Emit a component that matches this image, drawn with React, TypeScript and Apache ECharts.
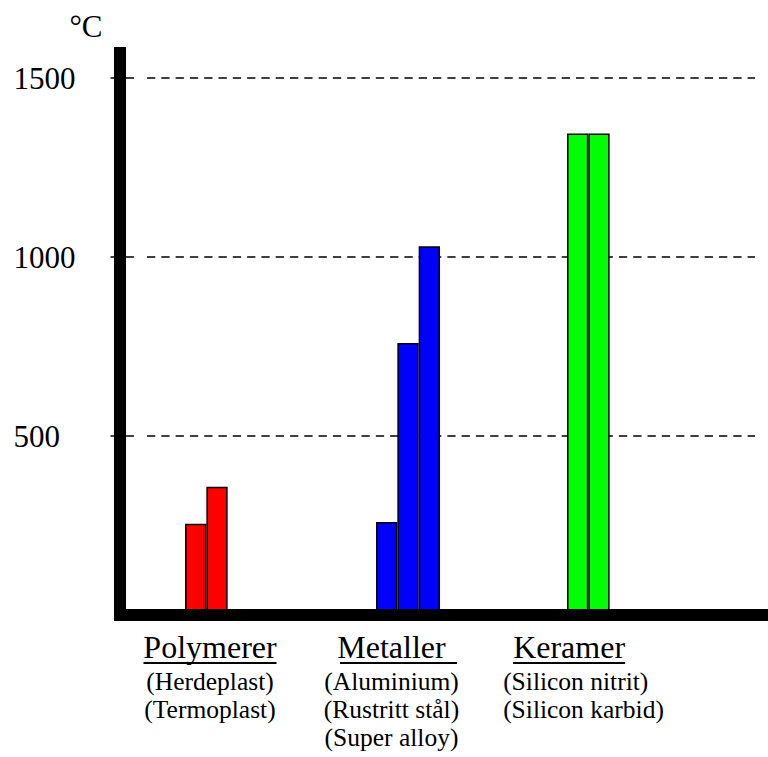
import React, { useEffect, useRef } from "react";
import * as echarts from "echarts";

// ---- data ----
const groups = ["Polymerer", "Metaller", "Keramer"];
const materials = [
  ["(Herdeplast)", "(Termoplast)"],
  ["(Aluminium)", "(Rustritt stål)", "(Super alloy)"],
  ["(Silicon nitrit)", "(Silicon karbid)"],
];
const firstValues = [255, 260, 1345];
const secondValues = [358, 760, 1345];
const thirdValues: (number | string)[] = ["-", 1030, "-"];
const yTicks = [500, 1000, 1500];
const unit = "°C";

const groupColors = ["#ff0000", "#0000ff", "#00ff00"];
const FONT = "Liberation Serif";
const Y_MAX = 1587;

export default function App() {
  const ref = useRef<HTMLDivElement>(null);
  useEffect(() => {
    if (!ref.current) return;
    const chart = echarts.init(ref.current, undefined, { renderer: "svg" });

    const labelPadRight = [14, 33, 31];
    const labelFor = (i: number) => {
      if (i === 0)
        return `{h|${groups[0]}}\n{u0| }\n` + materials[0].map((m) => `{s|${m}}`).join("\n");
      if (i === 1)
        return `{h|${groups[1]}}\n{sp14| }{u1| }\n` + materials[1].map((m) => `{s|${m}}`).join("\n");
      return `{spL| }{hL|${groups[2]}}\n{spL| }{u2L| }\n` + materials[2].map((m) => `{sL|${m}}`).join("\n");
    };

    const barSeries = [firstValues, secondValues, thirdValues].map((vals) => ({
      type: "bar",
      xAxisIndex: 1,
      yAxisIndex: 1,
      data: vals,
      barWidth: 21.3,
      barGap: "0%",
      itemStyle: {
        color: (p: any) => groupColors[p.dataIndex],
        borderColor: "#000",
        borderWidth: 1.5,
      },
      z: 2,
    }));

    const subFont = 25.5;
    const subLH = 28.3;

    chart.setOption({
      animation: false,
      backgroundColor: "#fff",
      textStyle: { fontFamily: FONT, color: "#000" },
      grid: [
        { left: 120, right: 0, top: 53, bottom: 142 },
        { left: 121.5, right: 73.5, top: 47, bottom: 142 },
        { left: 147, right: 13, top: 47, bottom: 142 },
      ],
      xAxis: [
        {
          gridIndex: 0,
          type: "value",
          min: 0,
          max: 1,
          z: 10,
          axisLine: { show: true, lineStyle: { color: "#000", width: 12 } },
          axisTick: { show: false },
          axisLabel: { show: false },
          splitLine: { show: false },
        },
        {
          gridIndex: 1,
          type: "category",
          data: groups.map((g, i) => ({
            value: g,
            textStyle: { padding: [0, labelPadRight[i], 0, 0] },
          })),
          axisLine: { show: false },
          axisTick: { show: false },
          axisLabel: {
            interval: 0,
            margin: 17,
            color: "#000",
            fontFamily: FONT,
            formatter: (_v: string, i: number) => labelFor(i),
            rich: {
              h: { fontSize: 32, lineHeight: 30, fontFamily: FONT, color: "#000" },
              hL: { fontSize: 32, lineHeight: 30, fontFamily: FONT, color: "#000", align: "left" },
              s: { fontSize: subFont, lineHeight: subLH, fontFamily: FONT, color: "#000" },
              sL: { fontSize: subFont, lineHeight: subLH, fontFamily: FONT, color: "#000", align: "left" },
              u0: { width: 133, height: 2, lineHeight: 5, fontSize: 2, verticalAlign: "top", backgroundColor: "#000" },
              u1: { width: 117, height: 2, lineHeight: 5, fontSize: 2, verticalAlign: "top", backgroundColor: "#000" },
              u2L: { width: 112, height: 2, lineHeight: 5, fontSize: 2, verticalAlign: "top", backgroundColor: "#000", align: "left" },
              sp14: { width: 14, lineHeight: 5, fontSize: 2 },
              spL: { width: 10, lineHeight: 5, fontSize: 2, align: "left" },
            },
          },
          splitLine: { show: false },
        },
        {
          gridIndex: 2,
          type: "value",
          min: 0,
          max: 1,
          show: false,
        },
      ],
      yAxis: [
        {
          gridIndex: 0,
          type: "value",
          min: 0,
          max: 1,
          z: 10,
          axisLine: { show: true, lineStyle: { color: "#000", width: 12, cap: "square" } },
          axisTick: { show: false },
          axisLabel: { show: false },
          splitLine: { show: false },
        },
        {
          gridIndex: 1,
          type: "value",
          min: 0,
          max: Y_MAX,
          name: unit,
          nameLocation: "end",
          nameGap: 21,
          nameTextStyle: {
            fontSize: 31,
            fontFamily: FONT,
            color: "#000",
            align: "right",
            verticalAlign: "middle",
            padding: [0, 19, 0, 0],
          },
          axisLine: { show: false },
          axisTick: {
            show: true,
            customValues: yTicks,
            length: 11,
            lineStyle: { color: "#000", width: 1.5 },
          },
          axisLabel: {
            customValues: yTicks,
            formatter: (v: number) => String(v),
            fontSize: 31,
            fontFamily: FONT,
            color: "#000",
            align: "left",
            margin: 108,
          },
          splitLine: { show: false },
        },
        {
          gridIndex: 1,
          type: "value",
          min: 0,
          max: Y_MAX,
          position: "left",
          axisLine: { show: false },
          axisTick: {
            show: true,
            inside: true,
            customValues: yTicks,
            length: 12.5,
            lineStyle: { color: "#000", width: 1.5 },
          },
          axisLabel: { show: false },
          splitLine: { show: false },
        },
        {
          gridIndex: 2,
          type: "value",
          min: 0,
          max: Y_MAX,
          interval: 500,
          axisLine: { show: false },
          axisTick: { show: false },
          axisLabel: { show: false },
          splitLine: {
            show: true,
            showMinLine: false,
            showMaxLine: false,
            lineStyle: { color: "#000", width: 1.5, type: [8.3, 6] },
          },
        },
      ],
      series: barSeries,
    });

    return () => chart.dispose();
  }, []);

  return (
    <div
      ref={ref}
      style={{ position: "fixed", left: 0, top: 0, width: 768, height: 757, background: "#fff" }}
    />
  );
}
